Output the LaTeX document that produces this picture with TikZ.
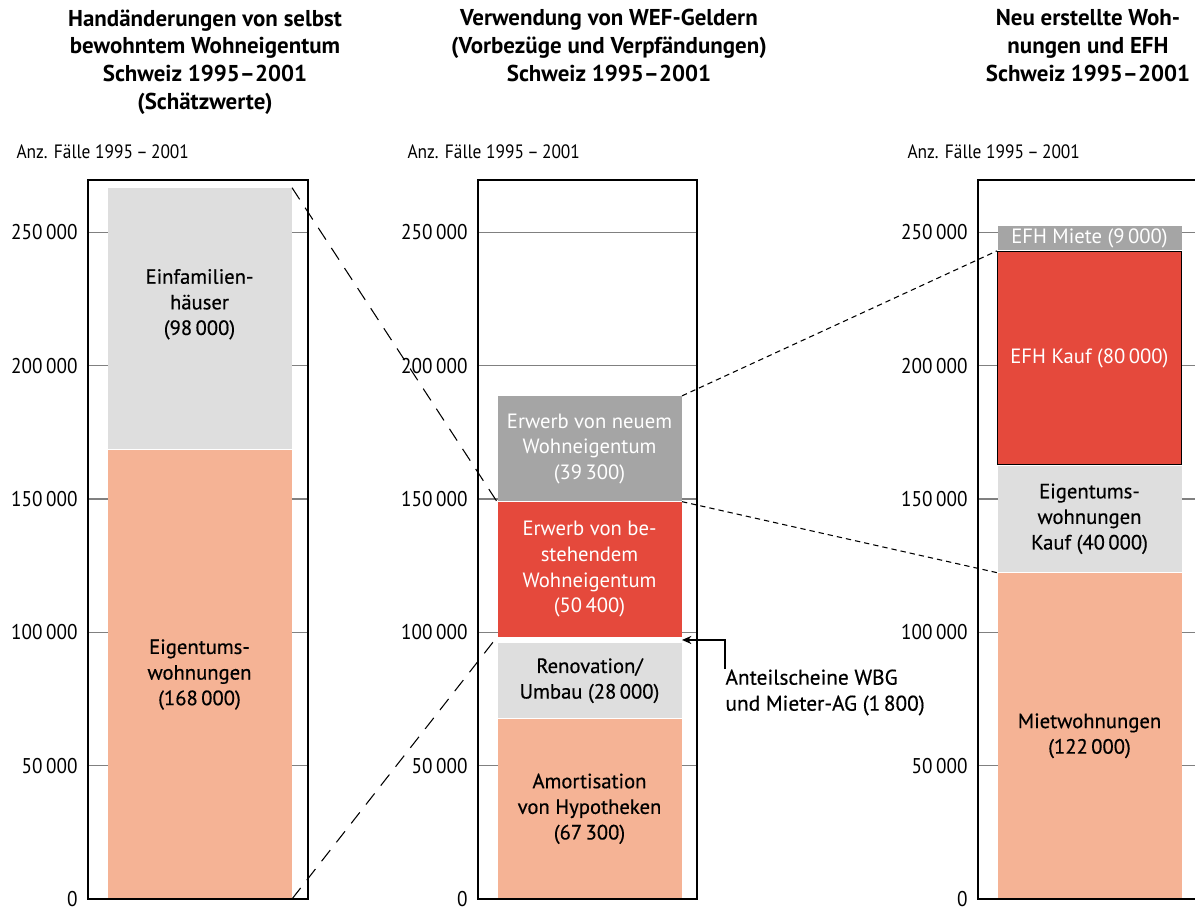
\documentclass[tikz,border=0pt]{standalone}
\usepackage{fontspec}
\setmainfont{PT Sans}
\newfontfamily\axisfont[FakeStretch=0.9]{PT Sans}
\newfontfamily\medfont[FakeBold=0.5]{PT Sans}
\usetikzlibrary{arrows.meta}
\definecolor{salmon}{HTML}{F5B395}
\definecolor{lightgrey}{HTML}{DEDEDE}
\definecolor{darkgrey}{HTML}{A5A5A5}
\definecolor{barred}{HTML}{E5493C}
\definecolor{gridgrey}{HTML}{808080}

\begin{document}
\begin{tikzpicture}[x=0.75pt,y=-0.75pt,line width=.75pt,
  charttitle/.style={anchor=north,inner sep=0pt,align=center,font=\bfseries\fontsize{17.2}{20.8}\selectfont},
  ticklabel/.style={inner sep=0pt,font=\axisfont\fontsize{16}{18}\selectfont},
  seg/.style={anchor=south west,inner sep=0pt,minimum width=138pt,align=center,font=\medfont\fontsize{15.5}{19.2}\selectfont},
  whitetext/.style={text=white,font=\fontsize{15.5}{19.2}\selectfont},
  panelbox/.style={draw=black,line width=1.1pt},
  tickline/.style={draw=gridgrey,line width=1.1pt},
  longdash/.style={dash pattern=on 10.5pt off 7.5pt,line width=.8pt},
  shortdash/.style={dash pattern=on 4pt off 3pt,line width=.8pt}]
\path[use as bounding box] (0,0) rectangle (1195,919);
\clip (0,0) rectangle (1195,919);
% titles
\node[charttitle] (t1) at (205,9) {Handänderungen von selbst\\bewohntem Wohneigentum\\Schweiz 1995–2001\\(Schätzwerte)};
\node[charttitle] (t2) at (609,9) {Verwendung von WEF-Geldern\\(Vorbezüge und Verpfändungen)\\Schweiz 1995–2001};
\node[charttitle] (t3) at (1088,9) {Neu erstellte Woh-\\nungen und EFH\\Schweiz 1995–2001};
\node[ticklabel,anchor=west,font=\axisfont\fontsize{14.5}{16}\selectfont] (anz1) at (16,152) {Anz. Fälle 1995\,–\,2001};
\node[ticklabel,anchor=west,font=\axisfont\fontsize{14.5}{16}\selectfont] (anz2) at (407,152) {Anz. Fälle 1995\,–\,2001};
\node[ticklabel,anchor=west,font=\axisfont\fontsize{14.5}{16}\selectfont] (anz3) at (907,152) {Anz. Fälle 1995\,–\,2001};
% scales
\foreach \xl/\xr in {88/308,478/697,978/1200} {
  \foreach \v/\lab in {0/0,50/50\,000,100/100\,000,150/150\,000,200/200\,000,250/250\,000} {
    \draw[tickline] (\xl,899-\v*2.6667) -- (\xr,899-\v*2.6667);
    \node[ticklabel,anchor=east] at (\xl-10,899-\v*2.6667) {\lab};
  }
}
% bars
\node[seg,fill=salmon,minimum height=336pt] (ew1) at (107,899) {Eigentums-\\wohnungen\\(168\,000)};
\node[seg,fill=lightgrey,minimum height=196pt] (efh1) at (ew1.north west) {Einfamilien-\\häuser\\(98\,000)\\[6pt]};

\node[seg,fill=salmon,minimum height=134.6pt] (amort) at (497,899) {Amortisation\\von Hypotheken\\(67\,300)};
\node[seg,fill=lightgrey,minimum height=56pt] (renov) at (amort.north west) {Renovation/\\Umbau (28\,000)};
\node[seg,fill=white,minimum height=3.6pt] (gap) at (renov.north west) {};
\node[seg,whitetext,fill=barred,minimum height=100.8pt] (bestand) at (gap.north west) {Erwerb von be-\\stehendem\\Wohneigentum\\(50\,400)};
\node[seg,whitetext,fill=darkgrey,minimum height=78.6pt] (neu) at (bestand.north west) {Erwerb von neuem\\Wohneigentum\\(39\,300)};

\node[seg,fill=salmon,minimum height=244pt] (miet) at (997,899) {Mietwohnungen\\(122\,000)};
\node[seg,fill=lightgrey,minimum height=80pt] (ewkauf) at (miet.north west) {Eigentums-\\wohnungen\\Kauf (40\,000)};
\node[seg,whitetext,fill=barred,draw=black,line width=.6pt,minimum height=160pt] (efhkauf) at (ewkauf.north west) {EFH Kauf (80\,000)};
\node[seg,whitetext,fill=darkgrey,minimum height=18pt] (efhmiete) at (efhkauf.north west) {EFH Miete (9\,000)};
% frames
\draw[panelbox] (88,180) rectangle (308,899);
\draw[panelbox] (478,180) rectangle (697,899);
\draw[panelbox] (978,180) rectangle (1200,899);
% links
\draw[longdash] (efh1.north east) -- (bestand.north west);
\draw[longdash] (ew1.south east) -- (bestand.south west);
\draw[shortdash] (neu.north east) -- (efhkauf.north west);
\draw[shortdash] (bestand.north east) -- (miet.north west);
\node[anchor=north west,inner sep=0pt,align=left,font=\medfont\fontsize{16}{19.5}\selectfont] (anteil) at (725,669) {Anteilscheine WBG\\und Mieter-AG (1\,800)};
\draw[line width=1.5pt,-{Stealth[length=7pt,width=6pt]}] (anteil.north west) |- (gap.east);
\end{tikzpicture}
\end{document}
